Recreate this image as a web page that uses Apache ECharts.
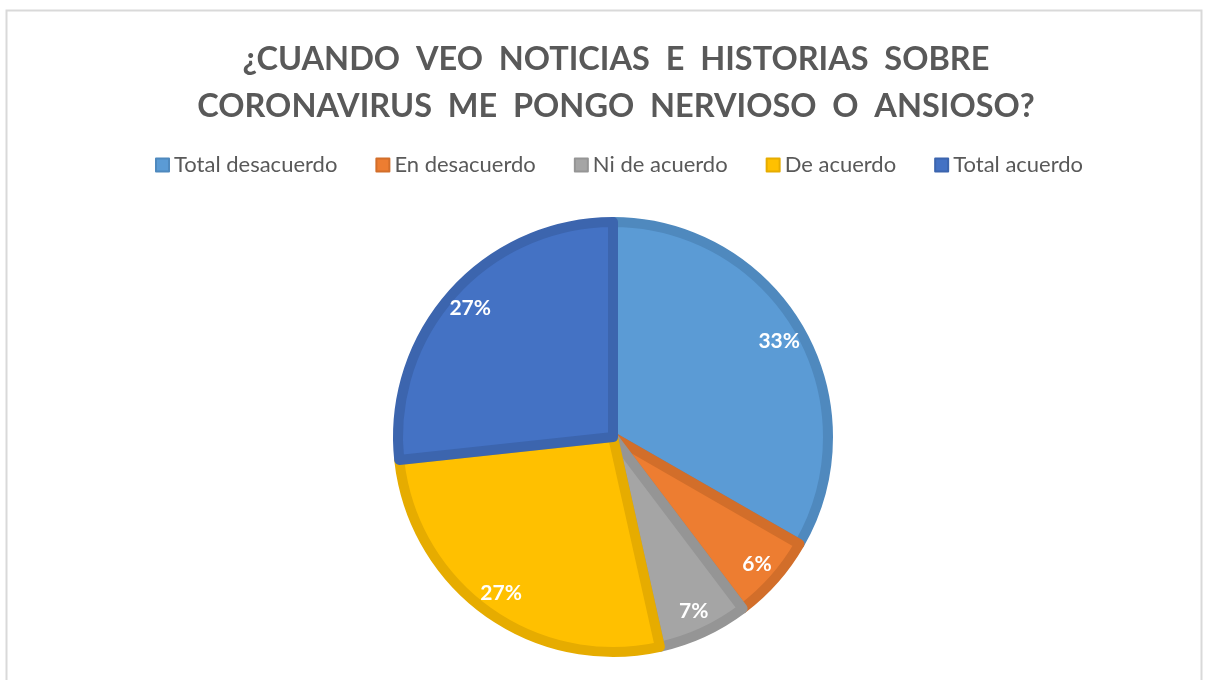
<!DOCTYPE html>
<html>
<head>
<meta charset="utf-8">
<script src="https://cdn.jsdelivr.net/npm/echarts@6/dist/echarts.min.js"></script>
<style>html,body{margin:0;padding:0;background:#fff}#c{width:1208px;height:680px}</style>
</head>
<body>
<div id="c"></div>
<script>
var titleLines = ['¿CUANDO  VEO  NOTICIAS  E  HISTORIAS  SOBRE', 'CORONAVIRUS  ME  PONGO  NERVIOSO  O  ANSIOSO?'];
var categories = ['Total desacuerdo', 'En desacuerdo', 'Ni de acuerdo', 'De acuerdo', 'Total acuerdo'];
var values = [33.3, 6.4, 6.8, 26.8, 26.7];
var fillColors = ['#5B9BD5', '#ED7D31', '#A5A5A5', '#FFC000', '#4472C4'];
var borderColors = ['#4F89BE', '#D26E2A', '#959595', '#E6AC00', '#3C65AE'];

var chart = echarts.init(document.getElementById('c'), null, {renderer: 'canvas'});
var font = 'Lato, "Open Sans", sans-serif';
var pieData = categories.map(function (n, i) {
  return {name: n, value: values[i], itemStyle: {color: fillColors[i], borderColor: borderColors[i]}};
});
var labelData = categories.map(function (n, i) {
  return {name: n, value: values[i]};
});
chart.setOption({
  animation: false,
  backgroundColor: '#fff',
  color: fillColors,
  graphic: [{
    type: 'rect', silent: true,
    shape: {x: 6.5, y: 10.5, width: 1195, height: 700},
    style: {fill: 'none', stroke: '#D9D9D9', lineWidth: 2}
  }],
  title: {
    text: titleLines.join('\n'),
    left: 611, textAlign: 'center', top: 31,
    textStyle: {fontFamily: font, fontWeight: 'bold', fontSize: 32.5, color: '#595959', lineHeight: 47}
  },
  legend: {
    data: categories,
    top: 149, left: 150,
    icon: 'rect', itemWidth: 13, itemHeight: 13, itemGap: 38, itemTextGap: 7,
    textStyle: {fontFamily: font, fontSize: 22, color: '#595959'}
  },
  series: [{
    type: 'pie',
    center: [613, 437],
    radius: [0, 215],
    startAngle: 90,
    clockwise: true,
    silent: true,
    label: {show: false},
    labelLine: {show: false},
    itemStyle: {borderWidth: 10},
    data: pieData
  }, {
    type: 'pie',
    center: [613, 437],
    radius: [154, 224],
    startAngle: 90,
    clockwise: true,
    silent: true,
    percentPrecision: 0,
    itemStyle: {color: 'rgba(0,0,0,0)', borderWidth: 0},
    label: {show: true, position: 'inside', formatter: '{d}%', color: '#fff',
      fontFamily: font, fontWeight: 'bold', fontSize: 21},
    labelLine: {show: false},
    data: labelData
  }]
});
</script>
</body>
</html>
